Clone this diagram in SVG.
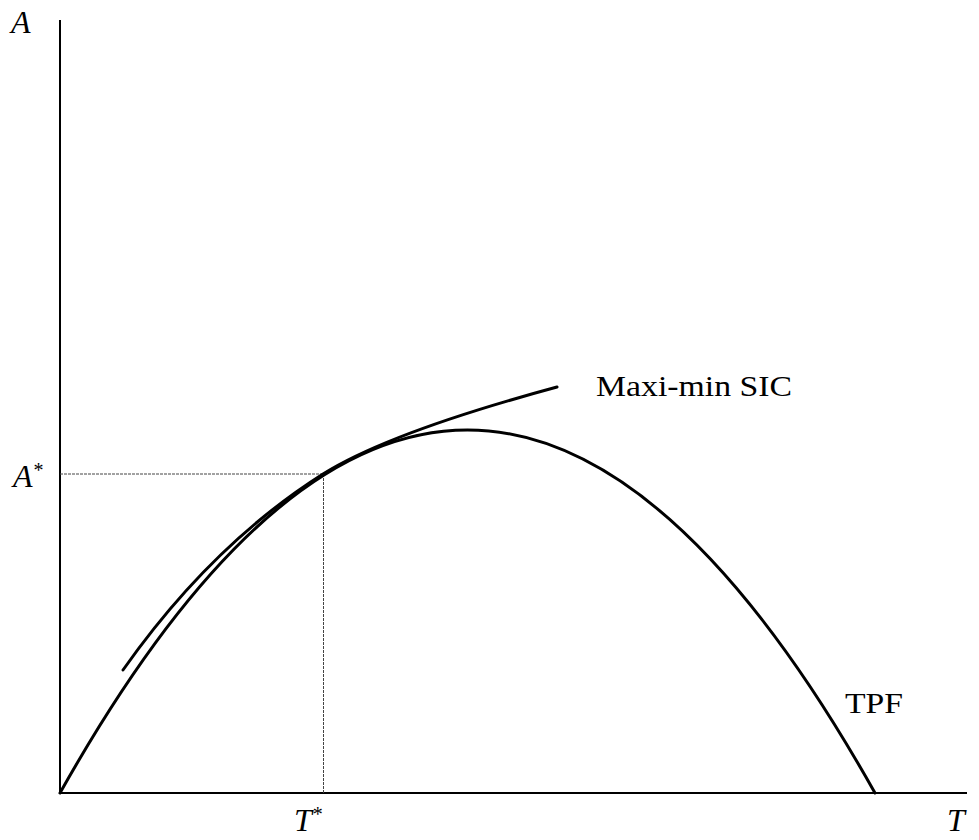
<svg xmlns="http://www.w3.org/2000/svg" width="979" height="840" viewBox="0 0 979 840">
<style>
.ax{stroke:#000;stroke-width:2;fill:none}
.cv{stroke:#000;stroke-width:3;fill:none;stroke-linecap:round}
.gd{stroke:#444;stroke-width:1;fill:none;stroke-dasharray:3 1}
.lb{font-family:"Liberation Serif","Times New Roman",serif;font-size:30px;fill:#000}
.it{font-style:italic;font-size:32px}
.st{font-size:20px;font-style:normal}
</style>
<rect width="979" height="840" fill="#fff"/>
<g id="axes">
<path class="ax" d="M60,20 V793 H967"/>
</g>
<g id="connectors">
<path class="gd" d="M60,474 H323"/>
<path class="gd" d="M323.5,474 V793"/>
</g>
<g id="tpf">
<path class="cv" d="M60,793 Q467.5,67 875,793"/>
<text class="lb" x="845" y="713" textLength="58" lengthAdjust="spacingAndGlyphs">TPF</text>
</g>
<g id="sic">
<path class="cv" d="M123,670 Q211,545 323,474 Q389,432.5 557,387"/>
<text class="lb" x="596" y="396" textLength="196" lengthAdjust="spacingAndGlyphs">Maxi-min SIC</text>
</g>
<g id="labels">
<text class="lb it" x="11" y="33">A</text>
<text class="lb it" x="13" y="487">A<tspan class="st" dx="1" dy="-10">*</tspan></text>
<text class="lb it" x="294" y="831">T<tspan class="st" dx="1" dy="-10">*</tspan></text>
<text class="lb it" x="947" y="831">T</text>
</g>
</svg>
